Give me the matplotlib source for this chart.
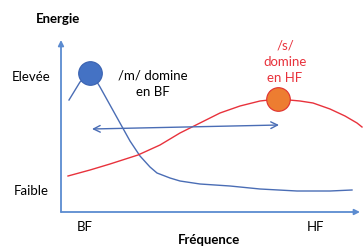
import numpy as np
import matplotlib.pyplot as plt

# curves (frequency, energy), origin at the axes corner
m_freq = [8, 19, 30, 39, 49, 59, 69, 79, 89, 96, 109, 119, 139, 169, 199, 236, 269, 291]
m_energy = [112, 130, 140, 125, 107, 89, 71, 56, 45, 39, 34, 31, 28, 26, 23, 21, 21, 22]
s_freq = [7, 29, 49, 77, 99, 119, 139, 159, 179, 199, 217, 239, 252, 269, 284, 296, 301]
s_energy = [36, 42, 48, 57, 67, 79, 89, 99, 106, 111, 113, 111, 109, 103, 96, 89, 85]
m_peak = (29, 139)
s_peak = (217, 113)
span_arrow = (31, 83, 218, 87)

blue_axis = '#5b8bd0'
blue_line = '#4a6db5'
red_line = '#e8323c'

fig = plt.figure(figsize=(3.63, 2.46), dpi=100)
ax = fig.add_axes([0, 0, 1, 1])
ax.set_xlim(-61, 302)
ax.set_ylim(-34, 212)
ax.axis('off')
plt.rcParams['font.family'] = ['Lato', 'DejaVu Sans']

# axes with arrows
ax.annotate('', xy=(0, 172), xytext=(0, 0),
            arrowprops=dict(arrowstyle='-|>', color=blue_axis, lw=1.3,
                            mutation_scale=8, shrinkA=0, shrinkB=0))
ax.annotate('', xy=(299, 0), xytext=(0, 0),
            arrowprops=dict(arrowstyle='-|>', color=blue_axis, lw=1.3,
                            mutation_scale=8, shrinkA=0, shrinkB=0))

ax.plot(m_freq, m_energy, color=blue_line, lw=1.0)
ax.plot(s_freq, s_energy, color=red_line, lw=1.0)

ax.plot(*m_peak, 'o', ms=17, color='#4472c4', mec='#3a62b0', mew=0.8, zorder=5)
ax.plot(*s_peak, 'o', ms=17, color='#ed7d31', mec='#e03030', mew=0.8, zorder=5)

x0, y0, x1, y1 = span_arrow
ax.annotate('', xy=(x0, y0), xytext=(x1, y1),
            arrowprops=dict(arrowstyle='<->', color=blue_line, lw=1.0,
                            mutation_scale=12, shrinkA=0, shrinkB=0))

fs = 9.5
ax.text(-3, 193, 'Energie', fontsize=fs, fontweight='bold', ha='center', va='center')
ax.text(-30, 135, 'Elevée', fontsize=fs, ha='center', va='center')
ax.text(-30, 21, 'Faible', fontsize=fs, ha='center', va='center')
ax.text(24, -15, 'BF', fontsize=fs, ha='center', va='center')
ax.text(254, -15, 'HF', fontsize=fs, ha='center', va='center')
ax.text(148, -28, 'Fréquence', fontsize=fs, fontweight='bold', ha='center', va='center')
ax.text(92, 128, '/m/ domine\nen BF', fontsize=fs, ha='center', va='center',
        linespacing=1.45)
ax.text(224, 150, '/s/\ndomine\nen HF', fontsize=fs, ha='center', va='center',
        color=red_line, linespacing=1.45)

fig.savefig('out.png', dpi=100)
